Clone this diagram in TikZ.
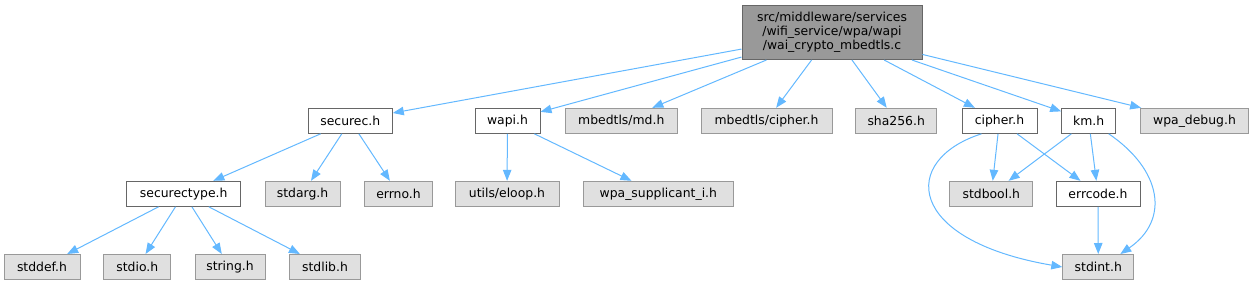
\documentclass[tikz,border=0pt]{standalone}
\usepackage{fontspec}
\setmainfont{DejaVu Sans}
\usetikzlibrary{arrows.meta}
\definecolor{doxEdge}{HTML}{63B8FF}
\definecolor{doxGray}{HTML}{E0E0E0}
\definecolor{doxRoot}{HTML}{999999}
\definecolor{doxLine}{HTML}{666666}

\begin{document}
\begin{tikzpicture}[x=1pt, y=-1pt,
    file/.style={rectangle, draw=doxLine, fill=white, line width=1pt,
                 minimum height=25pt, inner sep=0pt,
                 font=\fontsize{12.4}{13.8}\selectfont},
    ext/.style={file, draw=doxRoot, fill=doxGray},
    root/.style={file, fill=doxRoot, align=center, minimum height=54pt},
    dep/.style={draw=doxEdge, line width=1pt,
                -{Triangle[length=11pt, width=8.5pt]}}
  ]
  \useasboundingbox (0,0) rectangle (1254,285);

  \node[root, minimum width=180pt] (main) at (832, 32.5)
    {src/middleware/services\\/wifi\_service/wpa/wapi\\/wai\_crypto\_mbedtls.c};

  % second row
  \node[file, minimum width=84pt]  (securec)  at (350.3, 120.8) {securec.h};
  \node[file, minimum width=65pt]  (wapi)     at (507.5, 120.8) {wapi.h};
  \node[ext, minimum width=112pt]  (md)       at (621.3, 120.8) {mbedtls/md.h};
  \node[ext, minimum width=131pt]  (mcipher)  at (766.5, 120.8) {mbedtls/cipher.h};
  \node[ext, minimum width=81pt]   (sha)      at (896.2, 120.8) {sha256.h};
  \node[file, minimum width=75pt]  (cipher)   at (999.5, 120.8) {cipher.h};
  \node[file, minimum width=54pt]  (km)       at (1088.7, 120.8) {km.h};
  \node[ext, minimum width=108pt]  (wpadebug) at (1194.5, 120.8) {wpa\_debug.h};

  % third row
  \node[file, minimum width=114pt] (securetype) at (183.7, 193.8) {securectype.h};
  \node[ext, minimum width=75pt]   (stdarg)     at (302.5, 193.8) {stdarg.h};
  \node[ext, minimum width=68pt]   (errno)      at (398.5, 193.8) {errno.h};
  \node[ext, minimum width=104pt]  (eloop)      at (507, 193.8) {utils/eloop.h};
  \node[ext, minimum width=150pt]  (wpasupp)    at (658.3, 193.8) {wpa\_supplicant\_i.h};
  \node[ext, minimum width=83pt]   (stdbool)    at (991.3, 193.8) {stdbool.h};
  \node[file, minimum width=84pt]  (errcode)    at (1098, 193.8) {errcode.h};

  % fourth row
  \node[ext, minimum width=76pt] (stddef) at (42, 267) {stddef.h};
  \node[ext, minimum width=67pt] (stdio)  at (137.3, 267) {stdio.h};
  \node[ext, minimum width=70pt] (string) at (230, 267) {string.h};
  \node[ext, minimum width=71pt] (stdlib) at (325, 267) {stdlib.h};
  \node[ext, minimum width=71pt] (stdint) at (1098.3, 267) {stdint.h};

  \foreach \t in {securec, wapi, md, mcipher, sha, cipher, km, wpadebug}
    \draw[dep] (main) -- (\t);
  \foreach \t in {securetype, stdarg, errno}
    \draw[dep] (securec) -- (\t);
  \foreach \t in {stddef, stdio, string, stdlib}
    \draw[dep] (securetype) -- (\t);
  \foreach \t in {eloop, wpasupp}
    \draw[dep] (wapi) -- (\t);
  \foreach \t in {stdbool, errcode}{
    \draw[dep] (cipher) -- (\t);
    \draw[dep] (km) -- (\t);
  }
  \draw[dep] (errcode) -- (stdint);
  \draw[dep] ([xshift=-18pt]cipher.south) .. controls (900,160) and (905,240) .. (stdint.west);
  \draw[dep] ([xshift=20pt]km.south) .. controls (1162,170) and (1170,220) .. ([xshift=22pt]stdint.north);
\end{tikzpicture}
\end{document}
